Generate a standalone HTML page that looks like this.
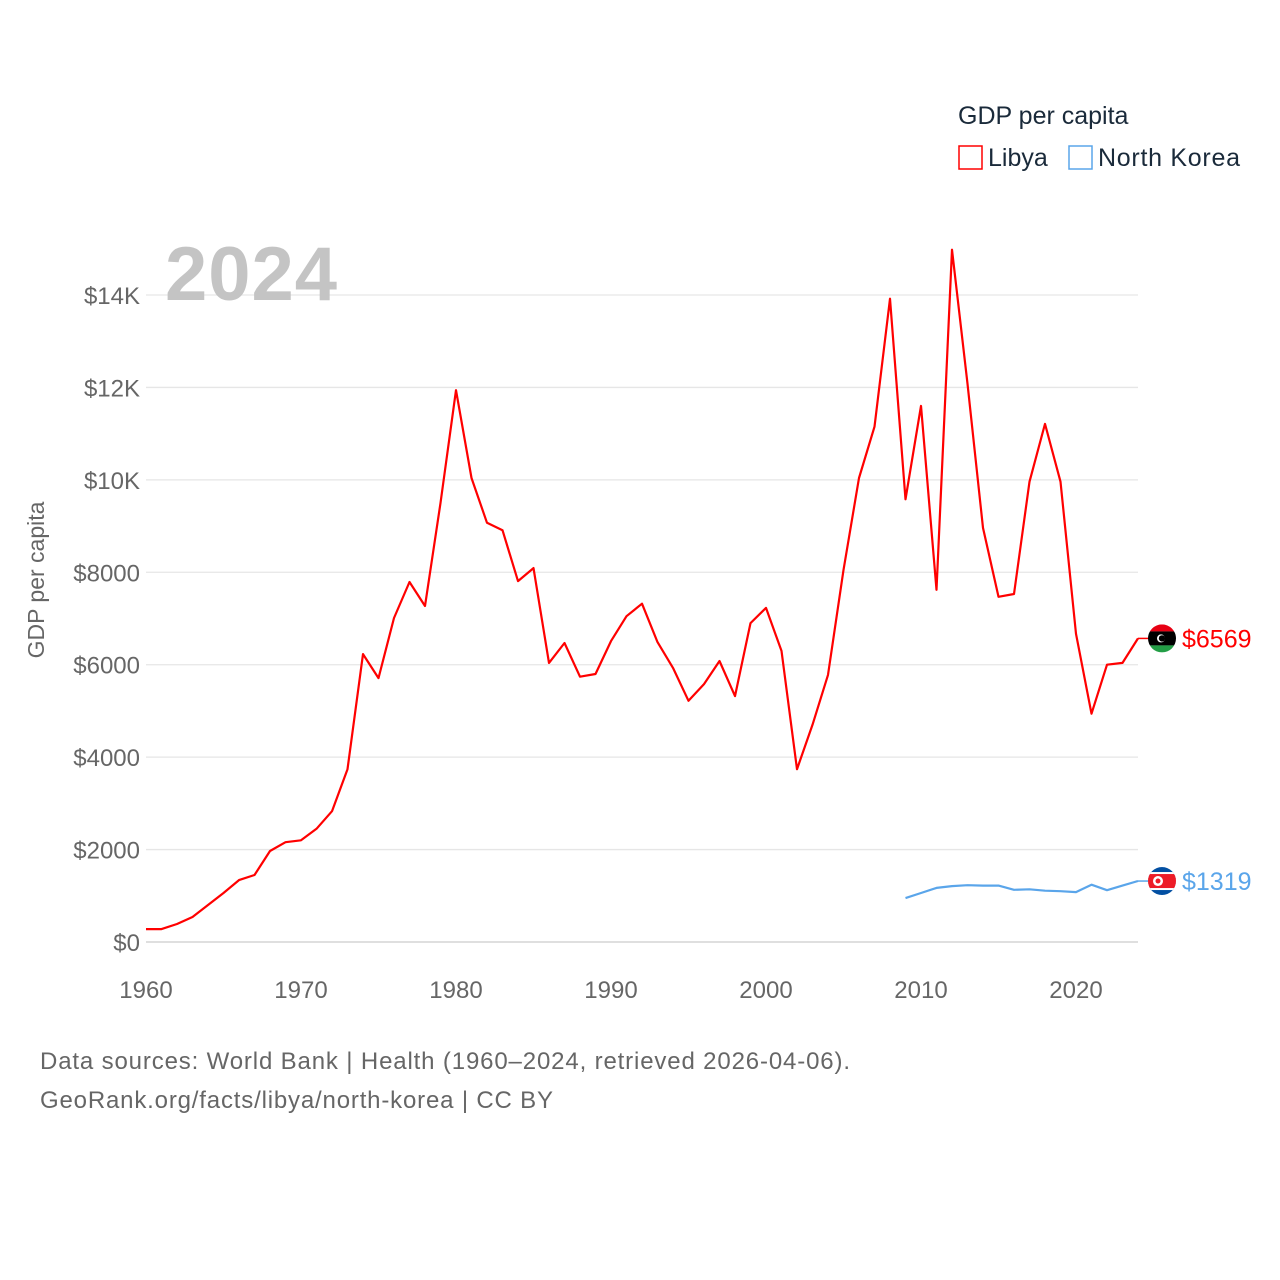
<!DOCTYPE html>
<html><head><meta charset="utf-8"><style>
body{margin:0;background:#fff;}
svg{display:block;font-family:"Liberation Sans",sans-serif;}
</style></head><body>
<svg id="chart" width="1280" height="1280" xmlns="http://www.w3.org/2000/svg">
<g id="grid"></g>
<g id="yticks"></g>
<g id="xticks"></g>
<text x="44" y="580" transform="rotate(-90 44 580)" text-anchor="middle" font-size="23" fill="#666">GDP per capita</text>
<text x="165" y="300" font-size="76" font-weight="bold" fill="#c4c4c4" textLength="172">2024</text>
<g id="series"></g>
<g>
<text x="958" y="124" font-size="25" fill="#1a2a3a">GDP per capita</text>
<rect x="959" y="146" width="23" height="23" fill="none" stroke="#ff0000" stroke-width="1.5"/>
<text x="988" y="166" font-size="25" fill="#1a2a3a">Libya</text>
<rect x="1069" y="146" width="23" height="23" fill="none" stroke="#5aa5ea" stroke-width="1.5"/>
<text x="1098" y="166" font-size="25" fill="#1a2a3a" textLength="142">North Korea</text>
</g>
<text x="40" y="1069" font-size="24" fill="#666" textLength="810">Data sources: World Bank | Health (1960–2024, retrieved 2026-04-06).</text>
<text x="40" y="1108" font-size="24" fill="#666" textLength="513">GeoRank.org/facts/libya/north-korea | CC BY</text>
</svg>
<script>
const years=[];for(let y=1960;y<=2024;y++)years.push(y);
const libya=[280,280,390,540,800,1060,1340,1450,1970,2160,2200,2450,2830,3740,6230,5710,7010,7790,7270,9500,11940,10040,9070,8910,7810,8090,6040,6470,5740,5800,6510,7050,7320,6490,5930,5220,5580,6080,5320,6900,7230,6300,3740,4700,5780,8050,10040,11150,13920,9580,11600,7620,14980,12080,8960,7470,7530,9960,11210,9960,6670,4940,6000,6040,6569];
const nkYears=[2009,2010,2011,2012,2013,2014,2015,2016,2017,2018,2019,2020,2021,2022,2023,2024];
const northKorea=[950,1060,1170,1210,1230,1220,1220,1130,1140,1110,1100,1080,1240,1120,1220,1319];
const yTicks=[0,2000,4000,6000,8000,10000,12000,14000];
const yTickLabels=["$0","$2000","$4000","$6000","$8000","$10K","$12K","$14K"];
const xTicks=[1960,1970,1980,1990,2000,2010,2020];
const NS="http://www.w3.org/2000/svg";
const xs=y=>146+(y-1960)*15.5;
const ys=v=>942-v*(647/14000);
function mk(tag,attrs,parent){const e=document.createElementNS(NS,tag);for(const k in attrs)e.setAttribute(k,attrs[k]);parent.appendChild(e);return e;}
const grid=document.getElementById('grid'),yt=document.getElementById('yticks'),xt=document.getElementById('xticks'),ser=document.getElementById('series');
yTicks.forEach((v,i)=>{
 const l=mk('line',{x1:146,x2:1138,y1:ys(v),y2:ys(v),stroke:v===0?'#ccc':'#e6e6e6','stroke-width':1.3},grid);
 
 
 const t=mk('text',{x:140,y:ys(v)+9,'text-anchor':'end','font-size':24,fill:'#666'},yt);
 t.textContent=yTickLabels[i];
 
 
});
xTicks.forEach(y=>{
 const t=mk('text',{x:xs(y),y:998,'text-anchor':'middle','font-size':24,fill:'#666'},xt);
 t.textContent=y;
 
 
});
function line(xv,vals,color,name){
 const d=vals.map((v,i)=>(i?'L':'M')+xs(xv[i]).toFixed(1)+','+ys(v).toFixed(1)).join('');
 const p=mk('path',{d:d,fill:'none',stroke:color,'stroke-width':2.2,'stroke-linejoin':'round'},ser);
 
 
}
line(years,libya,'#ff0000','libya-line');
line(nkYears,northKorea,'#5aa5ea','north-korea-line');
function endLabel(v,color,name,flag){
 const y=ys(v);
 mk('line',{x1:1138,x2:1150,y1:y,y2:y,stroke:color,'stroke-width':1.5},ser);
 const g=mk('g',{},ser);
 
 
 flag(g,1162,y);
 const t=mk('text',{x:1182,y:y+9,'font-size':25,fill:color},ser);
 t.textContent='$'+v;
 
 
}
endLabel(libya[libya.length-1],'#ff0000','libya',(g,cx,cy)=>{
 mk('clipPath',{id:'c1'},g).appendChild(document.createElementNS(NS,'circle'));
 const c=g.querySelector('clipPath circle');c.setAttribute('cx',cx);c.setAttribute('cy',cy);c.setAttribute('r',14);
 const gg=mk('g',{'clip-path':'url(#c1)'},g);
 mk('rect',{x:cx-14,y:cy-14,width:28,height:7,fill:'#e70013'},gg);
 mk('rect',{x:cx-14,y:cy-7,width:28,height:14,fill:'#000'},gg);
 mk('rect',{x:cx-14,y:cy+7,width:28,height:7,fill:'#239e46'},gg);
 mk('circle',{cx:cx-1,cy:cy,r:4,fill:'#fff'},gg);
 mk('circle',{cx:cx,cy:cy,r:3.2,fill:'#000'},gg);
});
endLabel(northKorea[northKorea.length-1],'#5aa5ea','north-korea',(g,cx,cy)=>{
 mk('clipPath',{id:'c2'},g).appendChild(document.createElementNS(NS,'circle'));
 const c=g.querySelector('clipPath circle');c.setAttribute('cx',cx);c.setAttribute('cy',cy);c.setAttribute('r',14);
 const gg=mk('g',{'clip-path':'url(#c2)'},g);
 mk('rect',{x:cx-14,y:cy-14,width:28,height:28,fill:'#024fa2'},gg);
 mk('rect',{x:cx-14,y:cy-9,width:28,height:18,fill:'#fff'},gg);
 mk('rect',{x:cx-14,y:cy-7,width:28,height:14,fill:'#ed1c27'},gg);
 mk('circle',{cx:cx-4,cy:cy,r:5,fill:'#fff'},gg);
 mk('circle',{cx:cx-4,cy:cy,r:2.5,fill:'#ed1c27'},gg);
});
</script>
</body></html>
